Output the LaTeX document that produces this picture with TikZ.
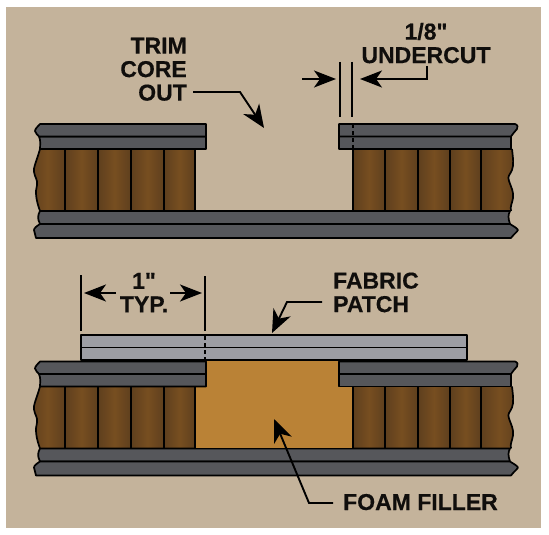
\documentclass[tikz,border=0pt]{standalone}
\usepackage{fontspec}
\newfontfamily\calloutfont{Liberation Sans}[BoldFeatures={FakeBold=0.35}]
\usetikzlibrary{arrows.meta}
\definecolor{bgbeige}{HTML}{C4B39B}
\definecolor{skin}{HTML}{56575B}
\definecolor{patchgrey}{HTML}{9D9EA4}
\definecolor{corebrown}{HTML}{774E20}
\definecolor{coredark}{HTML}{5E3F1E}
\definecolor{foam}{HTML}{BA8236}
\tikzset{
  x=1pt,y=-1pt,
  outline/.style={draw=black,line width=1.7pt,line join=round},
  skinpart/.style={outline,fill=skin},
  patchpart/.style={outline,fill=patchgrey},
  corecell/.style={left color=coredark,right color=coredark,middle color=corebrown},
  divider/.style={black,line width=1.7pt},
  leader/.style={black,line width=1.9pt,line join=miter,-{Stealth[length=23pt,width=19pt,inset=7pt]}},
  dimarrow/.style={black,line width=1.9pt,-{Stealth[length=22pt,width=17pt,inset=6pt]}},
  dimline/.style={black,line width=1.9pt},
  hidden/.style={black,line width=1.7pt,dash pattern=on 4pt off 3pt},
  callout/.style={inner sep=0pt,font=\fontsize{23}{23.5}\selectfont\calloutfont\bfseries,text=black!92!bgbeige}
}
% core-and-skin sandwich shared by both panels
\newcommand{\sandwich}{%
  % left core
  \begin{scope}
    \clip (40,149) .. controls (37,160) and (33,168) .. (34,172) .. controls (35,178) and (38,180) .. (37,185) .. controls (35,192) and (36,200) .. (40,211) -- (195,211) -- (195,149) -- cycle;
    \foreach \a/\b in {30/65,65/98,98/131,131/164,164/195}
      \shade[corecell] (\a,149) rectangle (\b,211);
  \end{scope}
  % right core
  \begin{scope}
    \clip (353,149) -- (512,149) .. controls (513,158) and (514,165) .. (512,170) .. controls (510,175) and (507,176) .. (509,181) .. controls (511,187) and (514,192) .. (513,198) .. controls (512,204) and (510,206) .. (511,211) -- (353,211) -- cycle;
    \foreach \a/\b in {353/385,385/418,418/450,450/481,481/518}
      \shade[corecell] (\a,149) rectangle (\b,211);
  \end{scope}
  % core outlines
  \draw[divider] (40,149) .. controls (37,160) and (33,168) .. (34,172) .. controls (35,178) and (38,180) .. (37,185) .. controls (35,192) and (36,200) .. (40,211);
  \draw[divider] (512,149) .. controls (513,158) and (514,165) .. (512,170) .. controls (510,175) and (507,176) .. (509,181) .. controls (511,187) and (514,192) .. (513,198) .. controls (512,204) and (510,206) .. (511,211);
  \foreach \x in {65,98,131,164,195,353,385,418,450,481}
    \draw[divider] (\x,149) -- (\x,211);
  % lower skin, both plies
  \draw[skinpart] (40,211) .. controls (38,215) and (37,218) .. (40,224) -- (510,224) .. controls (508,218) and (508,215) .. (510,211) -- cycle;
  \draw[skinpart] (40,224) .. controls (37,226) and (34,228) .. (34,230) -- (36,238) -- (511,238) .. controls (513,235) and (517,232) .. (518,230) .. controls (517,228) and (513,226) .. (510,224) -- cycle;
  % upper skin, left piece
  \draw[skinpart] (39,136.5) .. controls (41,141) and (40,145) .. (40,149) -- (206,149) -- (206,136.5) -- cycle;
  \draw[skinpart] (40,124) .. controls (38,126) and (35,129) .. (35,131) .. controls (35,133) and (38,135) .. (39,136.5) -- (206,136.5) -- (206,124) -- cycle;
  % upper skin, right piece
  \draw[skinpart] (339,136.5) -- (511,136.5) -- (511,149) -- (339,149) -- cycle;
  \draw[skinpart] (339,124) -- (515,124) .. controls (518,125) and (518,127) .. (517,129) .. controls (515,132) and (512,134) .. (511,136.5) -- (339,136.5) -- cycle;
}
\begin{document}
\begin{tikzpicture}
\useasboundingbox (0,0) rectangle (549,535);
\fill[white] (0,0) rectangle (549,535);
\fill[bgbeige] (6,7) rectangle (541,528);

% ---- top panel ----
\sandwich
\draw[hidden] (353,124) -- (353,149);

\node[callout,align=right,anchor=south east] (trim) at (187,101) {TRIM\\CORE\\OUT};
\coordinate (trimbend) at (240,92);
\coordinate (trimtip) at (264,128);
\draw[leader] (trim.east |- trimbend) ++(6,0) -- (trimbend) -- (trimtip);

\node[callout,align=center,anchor=south] (under) at (426,63.5) {1/8"\\UNDERCUT};
\coordinate (ulA) at (340,62);
\coordinate (ulAe) at (340,117);
\coordinate (ulB) at (352,62);
\coordinate (ulBe) at (352,117);
\draw[dimline] (ulA) -- (ulAe);
\draw[dimline] (ulB) -- (ulBe);
\coordinate (arrL) at (302,79);
\coordinate (arrLtip) at (336,79);
\draw[dimarrow] (arrL) -- (arrLtip);
\coordinate (arrRbend) at (427,79);
\coordinate (arrRtip) at (360,79);
\draw[dimarrow] (427,66) -- (arrRbend) -- (arrRtip);

% ---- bottom panel ----
\fill[foam] (195,360) rectangle (353,449);
\begin{scope}[shift={(0,237.5)}]
  \sandwich
\end{scope}
\fill[foam] (207,361) rectangle (338,386);
\fill[foam] (196,387.5) rectangle (352,448);

\draw[patchpart] (81,347.5) -- (467,347.5) -- (467,360) -- (81,360) -- cycle;
\draw[patchpart] (81,335) -- (467,335) -- (467,347.5) -- (81,347.5) -- cycle;
\draw[hidden] (205,336) -- (205,359);

\draw[dimline] (81,275) -- (81,331);
\draw[dimline] (205,276) -- (205,331);
\node[callout,align=center,anchor=south] (typ) at (144,312.5) {1"\\TYP.};
\coordinate (typL) at (84,293);
\coordinate (typR) at (202,293);
\draw[dimarrow] (116,293) -- (typL);
\draw[dimarrow] (170,293) -- (typR);

\node[callout,align=left,anchor=south west] (fabric) at (333,312.5) {FABRIC\\PATCH};
\coordinate (fabbend) at (287,302);
\coordinate (fabtip) at (272,333);
\draw[leader] (fabric.west |- fabbend) ++(-11,0) -- (fabbend) -- (fabtip);

\node[callout,anchor=base west] (foamlbl) at (343,510) {FOAM FILLER};
\coordinate (foambend) at (309,503);
\coordinate (foamtip) at (274,419);
\draw[leader] (foamlbl.west |- foambend) ++(-10,0) -- (foambend) -- (foamtip);
\end{tikzpicture}
\end{document}
